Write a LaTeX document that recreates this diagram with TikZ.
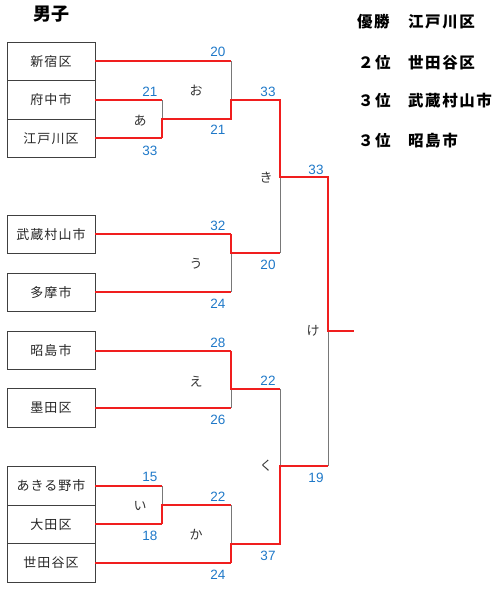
\documentclass[tikz,border=0pt]{standalone}
\usepackage{fontspec}
\setmainfont{Noto Sans CJK JP}
\newfontfamily\numfont{Liberation Sans}
\newfontfamily\teamfont[LetterSpace=8]{Noto Sans CJK JP}
\newfontfamily\resfont[LetterSpace=10]{Noto Sans CJK JP}
\definecolor{winred}{RGB}{240,30,30}
\definecolor{linegray}{RGB}{120,120,120}
\definecolor{scoreblue}{RGB}{30,120,200}
\begin{document}
\begin{tikzpicture}[x=1pt,y=-1pt,
  team/.style={draw=black!75,line width=0.8pt,minimum width=88pt,minimum height=38.5pt,inner sep=0pt,font=\teamfont\fontsize{13}{13}\selectfont,text=black!85},
  rl/.style={draw=winred,line width=1.4pt},
  gl/.style={draw=linegray,line width=1pt},
  score/.style={font=\numfont\fontsize{13.5}{13.5}\selectfont,text=scoreblue,inner sep=0pt},
  mlabel/.style={font=\fontsize{13}{13}\selectfont,text=black!80,inner sep=0pt},
  res/.style={font=\resfont\bfseries\fontsize{15.5}{15.5}\selectfont,inner sep=0pt,anchor=west}]
\useasboundingbox (0,0) rectangle (500,592);
% title
\node[font=\bfseries\fontsize{18}{18}\selectfont,inner sep=0pt] (title) at (52,14) {男子};
% results
\node[res] (r1a) at (357,22) {優勝};
\node[res] (r1b) at (408,22) {江戸川区};
\node[res] (r2a) at (358,63) {２位};
\node[res] (r2b) at (408,63) {世田谷区};
\node[res] (r3a) at (358,101) {３位};
\node[res] (r3b) at (408,101) {武蔵村山市};
\node[res] (r4a) at (358,141) {３位};
\node[res] (r4b) at (408,141) {昭島市};
% teams
\node[team] (t1) at (51,61.5) {新宿区};
\node[team] (t2) at (51,100) {府中市};
\node[team] (t3) at (51,138.5) {江戸川区};
\node[team] (t4) at (51,234.5) {武蔵村山市};
\node[team] (t5) at (51,292.5) {多摩市};
\node[team] (t6) at (51,350.5) {昭島市};
\node[team] (t7) at (51,408) {墨田区};
\node[team] (t8) at (51,486) {あきる野市};
\node[team] (t9) at (51,524.5) {大田区};
\node[team] (t10) at (51,563) {世田谷区};
% junction coordinates
\coordinate (aT) at (162,100); \coordinate (aM) at (162,119); \coordinate (aB) at (162,138);
\coordinate (oT) at (231,61); \coordinate (oM) at (231,100); \coordinate (oB) at (231,119);
\coordinate (uT) at (231,234); \coordinate (uM) at (231,253); \coordinate (uB) at (231,292);
\coordinate (kiT) at (280,100); \coordinate (kiM) at (280,177); \coordinate (kiB) at (280,253);
\coordinate (eT) at (231,351); \coordinate (eM) at (231,389); \coordinate (eB) at (231,408);
\coordinate (iT) at (162,486); \coordinate (iM) at (162,505); \coordinate (iB) at (162,524);
\coordinate (kaT) at (231,505); \coordinate (kaM) at (231,544); \coordinate (kaB) at (231,563);
\coordinate (kuT) at (280,389); \coordinate (kuM) at (280,466); \coordinate (kuB) at (280,544);
\coordinate (keT) at (328,177); \coordinate (keM) at (328,331); \coordinate (keB) at (328,466);
\coordinate (champ) at (354,331);
% gray vertical parts
\draw[gl] (aT) -- (aM);
\draw[gl] (oT) -- (oM);
\draw[gl] (uB) -- (uM);
\draw[gl] (kiM) -- (kiB);
\draw[gl] (eM) -- (eB);
\draw[gl] (iT) -- (iM);
\draw[gl] (kaT) -- (kaM);
\draw[gl] (kuT) -- (kuM);
\draw[gl] (keM) -- (keB);
% team lines
\draw[rl] (t1.east |- oT) -- (oT);
\draw[rl] (t2.east |- aT) -- (aT);
\draw[rl] (t3.east |- aB) -- (aB);
\draw[rl] (t4.east |- uT) -- (uT);
\draw[rl] (t5.east |- uB) -- (uB);
\draw[rl] (t6.east |- eT) -- (eT);
\draw[rl] (t7.east |- eB) -- (eB);
\draw[rl] (t8.east |- iT) -- (iT);
\draw[rl] (t9.east |- iB) -- (iB);
\draw[rl] (t10.east |- kaB) -- (kaB);
% winner paths
\draw[rl] (aB) -- (aM) -- (oB) -- (oM) -- (kiT) -- (kiM) -- (keT) -- (keM) -- (champ);
\draw[rl] (uT) -- (uM) -- (kiB);
\draw[rl] (eT) -- (eM) -- (kuT);
\draw[rl] (iB) -- (iM) -- (kaT);
\draw[rl] (kaB) -- (kaM) -- (kuB) -- (kuM) -- (keB);
% match labels
\node[mlabel] (ma) at (140,121) {あ};
\node[mlabel] (mo) at (196,91) {お};
\node[mlabel] (mu) at (196,264) {う};
\node[mlabel] (mki) at (266,178) {き};
\node[mlabel] (me) at (196,382) {え};
\node[mlabel] (mi) at (140,506) {い};
\node[mlabel] (mka) at (196,535) {か};
\node[mlabel] (mku) at (266,466) {く};
\node[mlabel] (mke) at (313,331) {け};
% scores
\node[score] (s1) at (218,52) {20};
\node[score] (s2) at (218,130) {21};
\node[score] (s3) at (150,92) {21};
\node[score] (s4) at (150,151) {33};
\node[score] (s5) at (268,92) {33};
\node[score] (s6) at (268,265) {20};
\node[score] (s7) at (218,226) {32};
\node[score] (s8) at (218,304) {24};
\node[score] (s9) at (316,170) {33};
\node[score] (s10) at (316,478) {19};
\node[score] (s11) at (218,343) {28};
\node[score] (s12) at (218,420) {26};
\node[score] (s13) at (268,381) {22};
\node[score] (s14) at (268,556) {37};
\node[score] (s15) at (150,477) {15};
\node[score] (s16) at (150,536) {18};
\node[score] (s17) at (218,497) {22};
\node[score] (s18) at (218,575) {24};
\end{tikzpicture}
\end{document}
